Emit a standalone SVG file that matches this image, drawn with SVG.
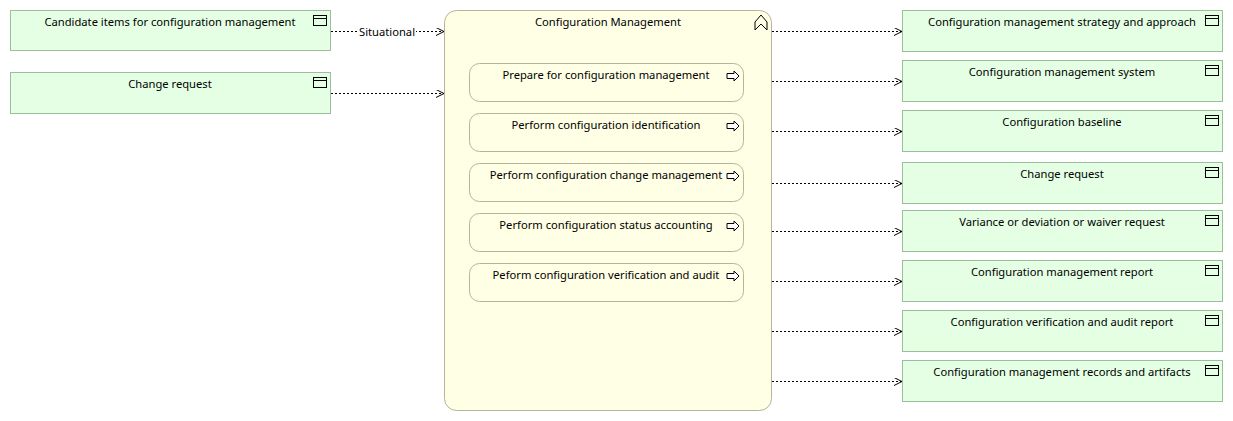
<svg xmlns="http://www.w3.org/2000/svg" width="1233" height="421" viewBox="0 0 1233 421">
<style>
text{font-family:"Noto Sans","Open Sans",sans-serif;font-size:11.2px;fill:#000;text-anchor:middle}
.obj{fill:#e5ffe5;stroke:#9bbf9b;stroke-width:1}
.ic{fill:none;stroke:#000;stroke-width:1}
.proc{fill:#ffffe5;stroke:#b5b59a;stroke-width:1}
.c{fill:none;stroke:#000;stroke-width:1;stroke-dasharray:2,2;marker-end:url(#a)}
</style>
<defs>
<marker id="a" markerWidth="10" markerHeight="10" refX="8" refY="4" orient="auto" markerUnits="userSpaceOnUse"><path d="M0,0 L8,4 L0,8" fill="none" stroke="#000"/></marker>
<g id="oi"><rect x="0" y="0" width="13" height="10" class="ic"/><line x1="0" y1="3" x2="13" y2="3" class="ic"/></g>
<g id="pa"><path d="M0,-2.5 H7 V-5 L12,0 L7,5 V2.5 H0 Z" fill="#fff" stroke="#000"/></g>
</defs>
<g id="n_cand"><rect class="obj" x="10.5" y="10.5" width="320" height="40"/><text x="170" y="26">Candidate items for configuration management</text><use href="#oi" x="313.5" y="15.5"/></g>
<g id="n_cr_in"><rect class="obj" x="10.5" y="72.5" width="320" height="41"/><text x="170" y="88">Change request</text><use href="#oi" x="313.5" y="77.5"/></g>
<g id="n_cm"><rect class="proc" x="444.5" y="10.5" width="327" height="400" rx="12"/><text x="608" y="26">Configuration Management</text><path d="M755,30 V22 L761,15 L767,22 V30 L761,24 Z" fill="none" stroke="#000"/></g>
<g id="p1"><rect class="proc" x="469.5" y="63.5" width="274" height="38" rx="10"/><text x="606" y="79">Prepare for configuration management</text><use href="#pa" x="727" y="76"/></g>
<g id="p2"><rect class="proc" x="469.5" y="113.5" width="274" height="38" rx="10"/><text x="606" y="129">Perform configuration identification</text><use href="#pa" x="727" y="126"/></g>
<g id="p3"><rect class="proc" x="469.5" y="163.5" width="274" height="38" rx="10"/><text x="606" y="179">Perform configuration change management</text><use href="#pa" x="727" y="176"/></g>
<g id="p4"><rect class="proc" x="469.5" y="213.5" width="274" height="38" rx="10"/><text x="606" y="229">Perform configuration status accounting</text><use href="#pa" x="727" y="226"/></g>
<g id="p5"><rect class="proc" x="469.5" y="263.5" width="274" height="38" rx="10"/><text x="606" y="279">Peform configuration verification and audit</text><use href="#pa" x="727" y="276"/></g>
<g id="o1"><rect class="obj" x="902.5" y="10.5" width="320" height="41"/><text x="1062" y="26">Configuration management strategy and approach</text><use href="#oi" x="1205.5" y="15.5"/></g>
<g id="o2"><rect class="obj" x="902.5" y="60.5" width="320" height="41"/><text x="1062" y="76">Configuration management system</text><use href="#oi" x="1205.5" y="65.5"/></g>
<g id="o3"><rect class="obj" x="902.5" y="110.5" width="320" height="41"/><text x="1062" y="126">Configuration baseline</text><use href="#oi" x="1205.5" y="115.5"/></g>
<g id="o4"><rect class="obj" x="902.5" y="162.5" width="320" height="41"/><text x="1062" y="178">Change request</text><use href="#oi" x="1205.5" y="167.5"/></g>
<g id="o5"><rect class="obj" x="902.5" y="210.5" width="320" height="41"/><text x="1062" y="226">Variance or deviation or waiver request</text><use href="#oi" x="1205.5" y="215.5"/></g>
<g id="o6"><rect class="obj" x="902.5" y="260.5" width="320" height="41"/><text x="1062" y="276">Configuration management report</text><use href="#oi" x="1205.5" y="265.5"/></g>
<g id="o7"><rect class="obj" x="902.5" y="310.5" width="320" height="41"/><text x="1062" y="326">Configuration verification and audit report</text><use href="#oi" x="1205.5" y="315.5"/></g>
<g id="o8"><rect class="obj" x="902.5" y="360.5" width="320" height="41"/><text x="1062" y="376">Configuration management records and artifacts</text><use href="#oi" x="1205.5" y="365.5"/></g>
<g id="connectors">
<path class="c" d="M331,31.5 H444"/>
<rect x="358" y="24" width="58" height="15" fill="#fff"/><text x="387" y="36">Situational</text>
<path class="c" d="M331,93.5 H444"/>
<path class="c" d="M772,31.5 H902"/>
<path class="c" d="M772,81.5 H902"/>
<path class="c" d="M772,131.5 H902"/>
<path class="c" d="M772,183.5 H902"/>
<path class="c" d="M772,231.5 H902"/>
<path class="c" d="M772,281.5 H902"/>
<path class="c" d="M772,331.5 H902"/>
<path class="c" d="M772,381.5 H902"/>
</g>
</svg>
